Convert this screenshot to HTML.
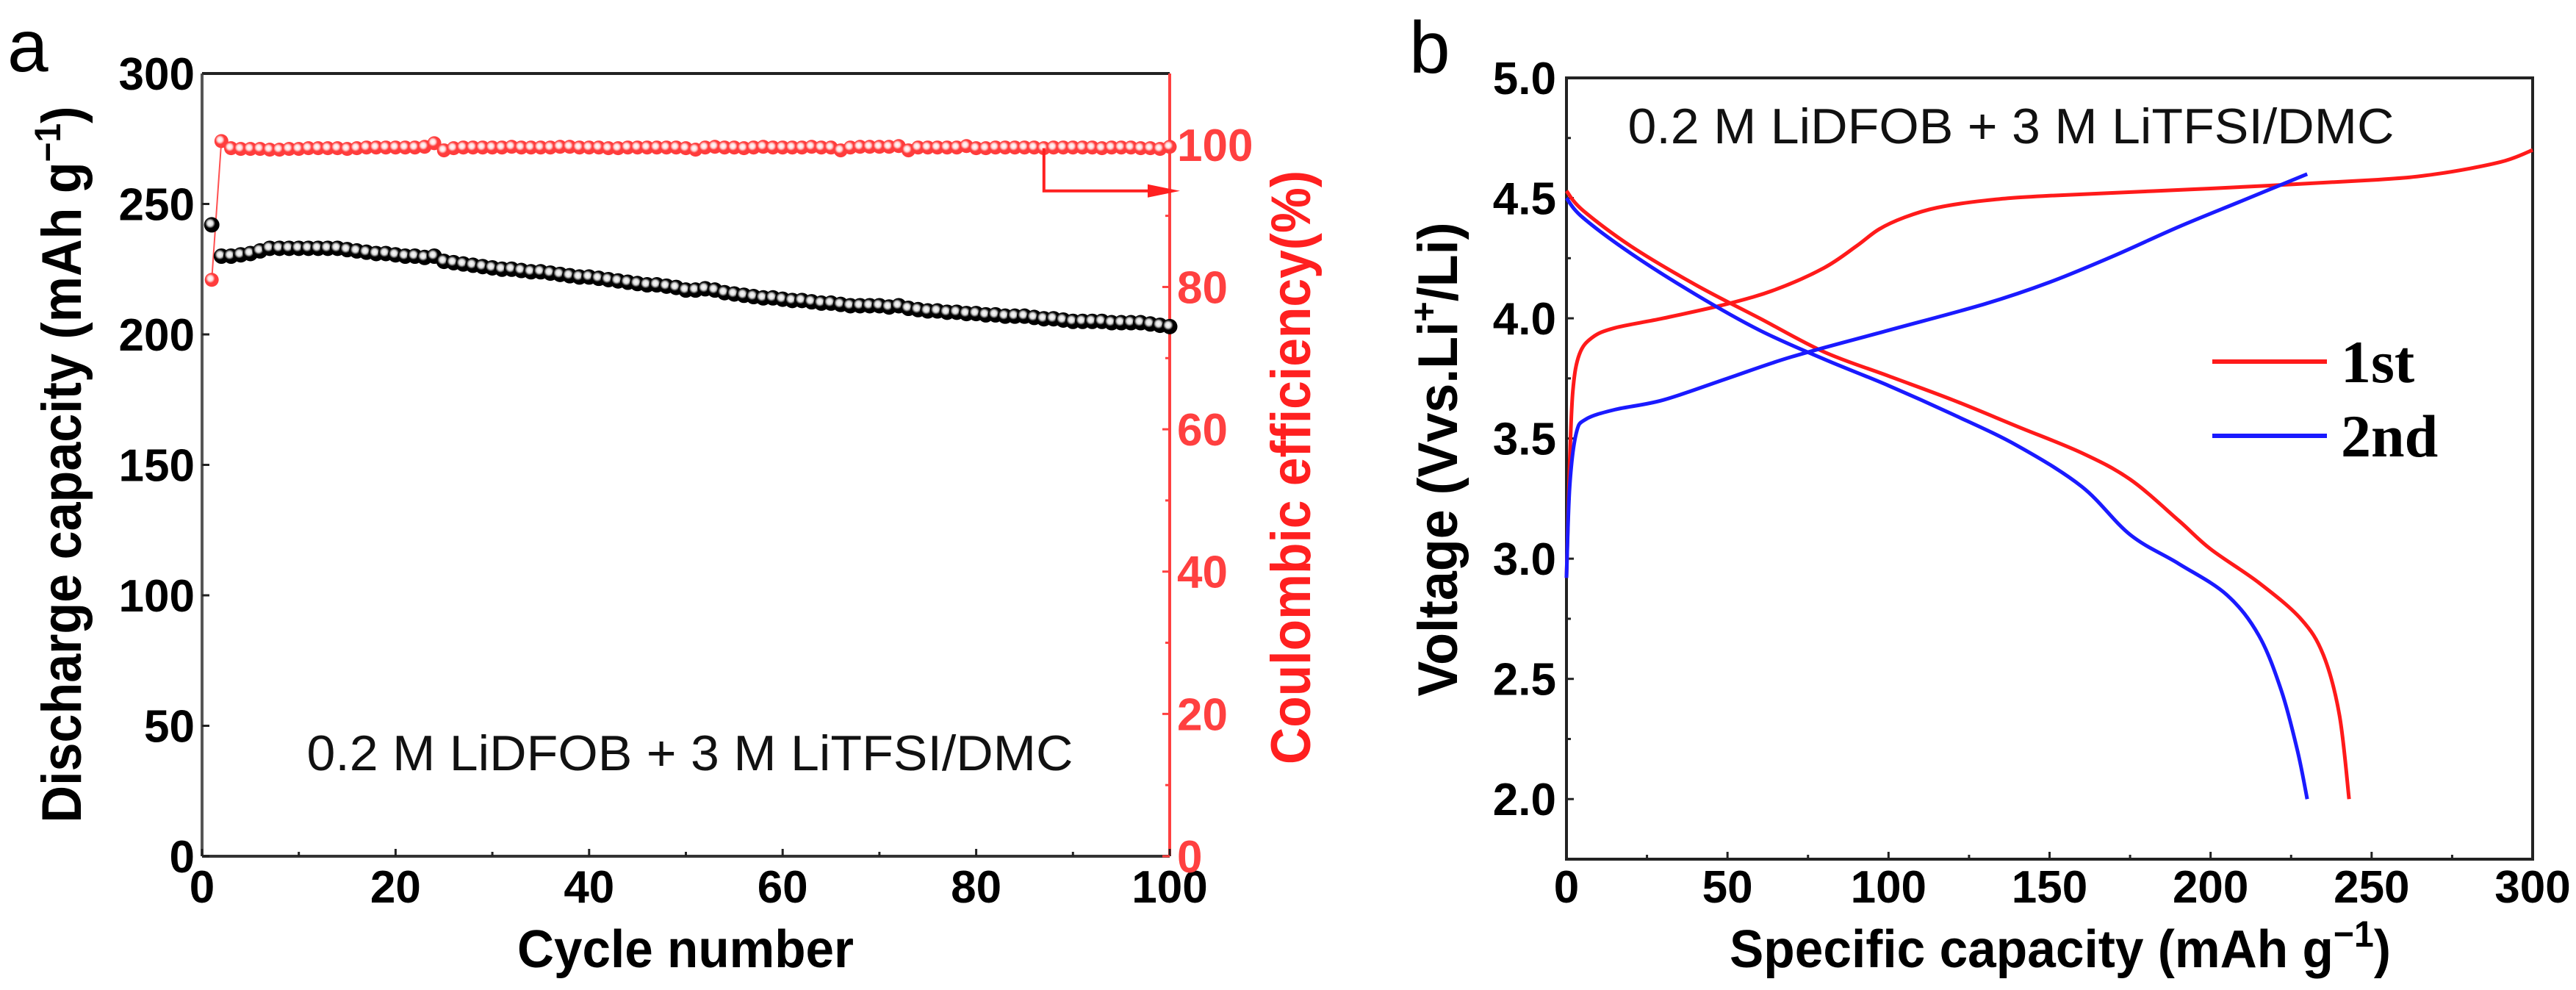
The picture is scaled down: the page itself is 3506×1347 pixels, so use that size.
<!DOCTYPE html>
<html><head><meta charset="utf-8"><style>
html,body{margin:0;padding:0;background:#fff;overflow:hidden;}
svg{display:block;}
text{font-family:"Liberation Sans",sans-serif;}
</style></head><body>
<svg id="fig" width="3506" height="1347" viewBox="0 0 3506 1347" xmlns="http://www.w3.org/2000/svg">
<defs>
<radialGradient id="gk" cx="0.4" cy="0.4" r="0.6"><stop offset="0" stop-color="#fff"/><stop offset="0.3" stop-color="#ddd"/><stop offset="0.55" stop-color="#000"/><stop offset="1" stop-color="#000"/></radialGradient>
<radialGradient id="gr" cx="0.4" cy="0.4" r="0.6"><stop offset="0" stop-color="#fff"/><stop offset="0.3" stop-color="#fdd"/><stop offset="0.55" stop-color="#ff3c3c"/><stop offset="1" stop-color="#ff3c3c"/></radialGradient>
</defs>
<g id="pa"></g>
<g id="pb"></g>
</svg>
<script>
// ---- Panel a data ----
const cycles = Array.from({length:100},(_,i)=>i+1);
const capacity = [242,230,230,230.5,231,232,233,233,233,233,233,233,233,233,232.5,232,231.5,231,231,230.5,230,230,229.5,230,228,227.5,227,226.5,226,225.5,225,225,224.5,224,224,223.5,223,222.5,222,222,221.5,221,220.5,220,219.5,219,219,218.5,218,217,217,217.5,217,216,215.5,215,214.5,214,214,213.5,213,213,212.5,212,212,211.5,211,211,211,211,210.5,211,210,209.5,209,209,208.5,208.5,208,208,207.5,207.5,207,207,207,206.5,206,206,205.5,205,205,205,205,204.5,204.5,204.5,204.5,204,203.5,203];
const ceff = [81,100.5,99.5,99.4,99.4,99.4,99.3,99.3,99.4,99.4,99.5,99.5,99.5,99.5,99.4,99.5,99.6,99.6,99.6,99.6,99.6,99.6,99.7,100.2,99.2,99.5,99.6,99.6,99.6,99.6,99.6,99.7,99.6,99.6,99.6,99.6,99.7,99.7,99.6,99.6,99.6,99.5,99.5,99.6,99.6,99.6,99.6,99.6,99.6,99.5,99.3,99.6,99.7,99.6,99.6,99.5,99.6,99.7,99.6,99.6,99.6,99.6,99.7,99.6,99.6,99.2,99.6,99.7,99.7,99.7,99.7,99.8,99.2,99.6,99.6,99.6,99.6,99.6,99.8,99.5,99.5,99.6,99.6,99.6,99.6,99.6,99.5,99.6,99.6,99.6,99.6,99.6,99.5,99.6,99.6,99.6,99.5,99.5,99.4,99.7];
const xTicksA = [0,20,40,60,80,100];
const yTicksA = [0,50,100,150,200,250,300];
const yTicksCE = [0,20,40,60,80,100];
// ---- Panel b data ----
const charge1Cap = [0,1,2,4,8,15,30,50,65,80,90,97,105,115,130,150,200,250,270,290,300];
const charge1V   = [2.92,3.4,3.7,3.85,3.92,3.96,4.0,4.06,4.12,4.21,4.3,4.37,4.42,4.46,4.49,4.51,4.54,4.575,4.6,4.65,4.7];
const charge2Cap = [0,1,3,6,15,30,50,70,100,130,150,170,190,210,230];
const charge2V   = [2.92,3.3,3.52,3.58,3.62,3.66,3.75,3.84,3.95,4.06,4.15,4.26,4.38,4.49,4.6];
const dis1Cap = [0,5,20,40,60,80,100,120,140,160,175,190,200,215,228,235,240,243];
const dis1V   = [4.53,4.45,4.3,4.14,4.0,3.86,3.76,3.66,3.55,3.44,3.33,3.16,3.04,2.9,2.75,2.6,2.35,2.0];
const dis2Cap = [0,5,20,40,60,80,100,120,140,160,175,190,205,215,222,227,230];
const dis2V   = [4.5,4.42,4.27,4.1,3.95,3.83,3.72,3.6,3.47,3.3,3.1,2.98,2.85,2.68,2.45,2.2,2.0];
const xTicksB = [0,50,100,150,200,250,300];
const yTicksB = [2.0,2.5,3.0,3.5,4.0,4.5,5.0];

const NS="http://www.w3.org/2000/svg";
function mk(parent,tag,attrs,txt){const e=document.createElementNS(NS,tag);for(const k in attrs)e.setAttribute(k,attrs[k]);if(txt!==undefined)e.textContent=txt;parent.appendChild(e);return e;}
function tick(parent,x,y,s,anchor,fill){return mk(parent,'text',{x:x,y:y,'text-anchor':anchor,'font-size':62,'font-weight':'bold',fill:fill},s);}

// ===== Panel A =====
const pa=document.getElementById('pa');
const AL=275,AR=1592,AT=100,AB=1165;
const ax=v=>AL+v/100*(AR-AL);
const ay=v=>AB-(v/300)*(AB-AT);
const ayc=v=>AB-(v/110)*(AB-AT);
let e;
e=mk(pa,'text',{x:10,y:97,'font-size':100,fill:'#000'},'a');


e=mk(pa,'line',{x1:AL,y1:AT,x2:AR,y2:AT,stroke:'#222','stroke-width':4});

e=mk(pa,'line',{x1:AL,y1:AT,x2:AL,y2:AB,stroke:'#555','stroke-width':4});

e=mk(pa,'line',{x1:AL,y1:AB,x2:AR,y2:AB,stroke:'#333','stroke-width':4});

e=mk(pa,'line',{x1:AR,y1:AT,x2:AR,y2:AB,stroke:'#ff4040','stroke-width':4});

xTicksA.forEach(v=>{mk(pa,'line',{x1:ax(v),y1:AB,x2:ax(v),y2:AB-10,stroke:'#222','stroke-width':3});
 e=tick(pa,ax(v),1228,String(v),'middle','#000');
 });
for(let v=10;v<100;v+=20)mk(pa,'line',{x1:ax(v),y1:AB,x2:ax(v),y2:AB-6,stroke:'#222','stroke-width':3});
yTicksA.forEach(v=>{mk(pa,'line',{x1:AL,y1:ay(v),x2:AL+10,y2:ay(v),stroke:'#222','stroke-width':3});
 e=tick(pa,AL-10,ay(v)+22,String(v),'end','#000');
 });
yTicksCE.forEach(v=>{mk(pa,'line',{x1:AR,y1:ayc(v),x2:AR-10,y2:ayc(v),stroke:'#ff4040','stroke-width':3});
 e=tick(pa,AR+10,ayc(v)+22,String(v),'start','#ff4040');
 });
for(let v=10;v<110;v+=20)mk(pa,'line',{x1:AR,y1:ayc(v),x2:AR-6,y2:ayc(v),stroke:'#ff4040','stroke-width':3});
e=mk(pa,'text',{x:0,y:0,transform:'translate(110,632) rotate(-90)','text-anchor':'middle','font-size':76,'font-weight':'bold',textLength:975,lengthAdjust:'spacingAndGlyphs'},'');
e.innerHTML='Discharge capacity (mAh g<tspan dy="-28" font-size="50">−1</tspan><tspan dy="28">)</tspan>';

e=mk(pa,'text',{x:0,y:0,transform:'translate(1783,636) rotate(-90)','text-anchor':'middle','font-size':76,'font-weight':'bold',fill:'#ff2020',textLength:808,lengthAdjust:'spacingAndGlyphs'},'Coulombic efficiency(%)');

e=mk(pa,'text',{x:933,y:1316,'text-anchor':'middle','font-size':72,'font-weight':'bold',textLength:458,lengthAdjust:'spacingAndGlyphs'},'Cycle number');

e=mk(pa,'text',{x:939,y:1048,'text-anchor':'middle','font-size':68,fill:'#111',textLength:1043,lengthAdjust:'spacingAndGlyphs'},'0.2 M LiDFOB + 3 M LiTFSI/DMC');

e=mk(pa,'polyline',{points:cycles.map((c,i)=>ax(c)+','+ayc(ceff[i])).join(' '),fill:'none',stroke:'#ff5050','stroke-width':2});

cycles.forEach((c,i)=>{e=mk(pa,'circle',{cx:ax(c),cy:ayc(ceff[i]),r:9.5,fill:'url(#gr)'});
 });
cycles.forEach((c,i)=>{e=mk(pa,'circle',{cx:ax(c),cy:ay(capacity[i]),r:10.5,fill:'url(#gk)'});
 });
e=mk(pa,'path',{d:`M${ax(87)},${ayc(99.5)} V${ayc(93.5)} H${AR-20}`,fill:'none',stroke:'#ff2020','stroke-width':4});

e=mk(pa,'polygon',{points:`${AR+14},${ayc(93.5)} ${AR-30},${ayc(93.5)-9} ${AR-30},${ayc(93.5)+9}`,fill:'#ff2020'});


// ===== Panel B =====
const pb=document.getElementById('pb');
const BL=2132,BR=3447,BT=106,BB=1169;
const bx=v=>BL+v/300*(BR-BL);
const by=v=>BB-(v-1.75)/(5.0-1.75)*(BB-BT);
e=mk(pb,'text',{x:1918,y:99,'font-size':100,fill:'#000'},'b');

e=mk(pb,'rect',{x:BL,y:BT,width:BR-BL,height:BB-BT,fill:'none',stroke:'#222','stroke-width':4});

xTicksB.forEach(v=>{mk(pb,'line',{x1:bx(v),y1:BB,x2:bx(v),y2:BB-10,stroke:'#222','stroke-width':3});
 e=tick(pb,bx(v),1228,String(v),'middle','#000');
 });
for(let v=25;v<300;v+=50)mk(pb,'line',{x1:bx(v),y1:BB,x2:bx(v),y2:BB-6,stroke:'#222','stroke-width':3});
yTicksB.forEach(v=>{mk(pb,'line',{x1:BL,y1:by(v),x2:BL+10,y2:by(v),stroke:'#222','stroke-width':3});
 e=tick(pb,BL-14,by(v)+22,v.toFixed(1),'end','#000');
 });
for(let v=2.25;v<5;v+=0.5)mk(pb,'line',{x1:BL,y1:by(v),x2:BL+6,y2:by(v),stroke:'#222','stroke-width':3});
e=mk(pb,'text',{x:0,y:0,transform:'translate(1983,625) rotate(-90)','text-anchor':'middle','font-size':76,'font-weight':'bold',textLength:645,lengthAdjust:'spacingAndGlyphs'},'');
e.innerHTML='Voltage (Vvs.Li<tspan dy="-28" font-size="50">+</tspan><tspan dy="28">/Li)</tspan>';

e=mk(pb,'text',{x:2804,y:1316,'text-anchor':'middle','font-size':72,'font-weight':'bold',textLength:900,lengthAdjust:'spacingAndGlyphs'},'');
e.innerHTML='Specific capacity (mAh g<tspan dy="-28" font-size="50">−1</tspan><tspan dy="28">)</tspan>';

e=mk(pb,'text',{x:2737,y:195,'text-anchor':'middle','font-size':68,fill:'#111',textLength:1043,lengthAdjust:'spacingAndGlyphs'},'0.2 M LiDFOB + 3 M LiTFSI/DMC');

function curve(caps,vs,col){
 const p=caps.map((c,i)=>[bx(c),by(vs[i])]);
 let d='M'+p[0][0]+','+p[0][1];
 for(let i=0;i<p.length-1;i++){const p0=p[i-1]||p[i],p1=p[i],p2=p[i+1],p3=p[i+2]||p2;
  const c1=[p1[0]+(p2[0]-p0[0])/6,p1[1]+(p2[1]-p0[1])/6],c2=[p2[0]-(p3[0]-p1[0])/6,p2[1]-(p3[1]-p1[1])/6];
  d+=` C${c1[0]},${c1[1]} ${c2[0]},${c2[1]} ${p2[0]},${p2[1]}`;}
 return mk(pb,'path',{d:d,fill:'none',stroke:col,'stroke-width':5,'stroke-linejoin':'round'});}
e=curve(charge1Cap,charge1V,'#ff1a1a');
e=curve(dis1Cap,dis1V,'#ff1a1a');
e=curve(charge2Cap,charge2V,'#1a1aff');
e=curve(dis2Cap,dis2V,'#1a1aff');
e=mk(pb,'line',{x1:3011,y1:492,x2:3167,y2:492,stroke:'#ff1a1a','stroke-width':6});

e=mk(pb,'text',{x:3186,y:520,'font-size':82,'font-weight':'bold',style:'font-family:"Liberation Serif",serif'},'1st');

e=mk(pb,'line',{x1:3011,y1:593,x2:3167,y2:593,stroke:'#1a1aff','stroke-width':6});

e=mk(pb,'text',{x:3186,y:621,'font-size':82,'font-weight':'bold',style:'font-family:"Liberation Serif",serif'},'2nd');

</script>
</body></html>
